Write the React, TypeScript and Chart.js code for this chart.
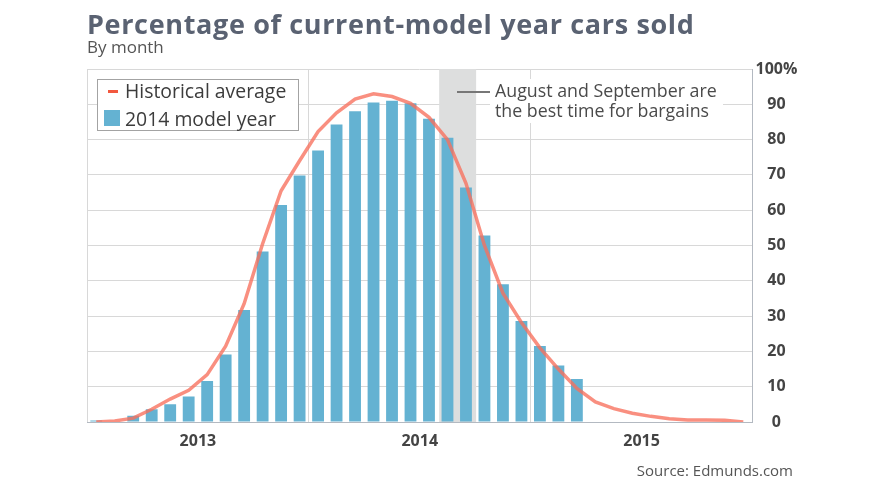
import React, { useEffect, useRef } from "react";
import { Chart, registerables } from "chart.js";

Chart.register(...registerables);

// ---- data ----
const monthLabels = [
  "Jan 2013", "Feb 2013", "Mar 2013", "Apr 2013", "May 2013", "Jun 2013",
  "Jul 2013", "Aug 2013", "Sep 2013", "Oct 2013", "Nov 2013", "Dec 2013",
  "Jan 2014", "Feb 2014", "Mar 2014", "Apr 2014", "May 2014", "Jun 2014",
  "Jul 2014", "Aug 2014", "Sep 2014", "Oct 2014", "Nov 2014", "Dec 2014",
  "Jan 2015", "Feb 2015", "Mar 2015", "Apr 2015", "May 2015", "Jun 2015",
  "Jul 2015", "Aug 2015", "Sep 2015", "Oct 2015", "Nov 2015", "Dec 2015",
];

const yearLabels = ["2013", "2014", "2015"];

const modelYear2014 = [
  0.4, 0, 1.8, 3.6, 5.0, 7.2, 11.6, 19.1, 31.7, 48.3, 61.5, 69.8, 76.9, 84.3,
  88.0, 90.5, 91.0, 90.3, 85.9, 80.5, 66.4, 52.8, 39.0, 28.6, 21.5, 16.0, 12.2,
];

const historicalAverage = [
  0, 0.3, 1.1, 3.6, 6.5, 9.0, 13.4, 21.5, 33.5, 50.5, 65.5, 74.0, 82.3, 87.6,
  91.5, 93.0, 92.2, 90.3, 86.3, 80.0, 67.6, 50.0, 36.5, 28.2, 21.0, 15.0, 9.5,
  5.7, 3.8, 2.5, 1.6, 0.9, 0.6, 0.6, 0.5, 0,
];

const yTickValues = [0, 10, 20, 30, 40, 50, 60, 70, 80, 90, 100];

const bargainMonths = ["Aug 2014", "Sep 2014"];

// ---- styles ----
const BAR_COLOR = "#64b2d2";
const LINE_COLOR = "rgba(247, 112, 92, 0.78)";
const GRID_COLOR = "#d8d8d8";
const AXIS_COLOR = "#b3b9c1";
const TEXT_DARK = "#444444";

const MONTHS_PER_YEAR = 12;

const shadePlugin = {
  id: "bargainShade",
  beforeDatasetsDraw(chart: any) {
    const { ctx, chartArea, scales } = chart;
    const x = scales.x;
    const i0 = monthLabels.indexOf(bargainMonths[0]);
    const i1 = monthLabels.indexOf(bargainMonths[1]);
    const x0 = x.getPixelForValue(i0 - 0.45);
    const x1 = x.getPixelForValue(i1 + 0.55);
    ctx.save();
    ctx.fillStyle = "#dddede";
    ctx.fillRect(x0, chartArea.top, x1 - x0, chartArea.bottom - chartArea.top);
    ctx.restore();
  },
};

function yearOfTick(v: number): string {
  const rel = v - (MONTHS_PER_YEAR / 2 - 0.5);
  if (Math.abs(rel % MONTHS_PER_YEAR) < 1e-6) {
    return yearLabels[Math.round(rel / MONTHS_PER_YEAR)] ?? "";
  }
  return "";
}

function isYearBoundary(v: number): boolean {
  const rel = v + 0.5;
  return Math.abs(rel % MONTHS_PER_YEAR) < 1e-6;
}

export default function App() {
  const canvasRef = useRef<HTMLCanvasElement | null>(null);

  useEffect(() => {
    if (!canvasRef.current) return;
    const n = monthLabels.length;
    const xTicks: number[] = [];
    for (let k = 0; k < yearLabels.length; k++) {
      xTicks.push(k * MONTHS_PER_YEAR - 0.5);
      xTicks.push(k * MONTHS_PER_YEAR + MONTHS_PER_YEAR / 2 - 0.5);
    }
    xTicks.push(n - 0.5);

    const chart = new Chart(canvasRef.current, {
      type: "bar",
      data: {
        datasets: [
          {
            type: "line",
            label: "Historical average",
            data: historicalAverage.map((v, i) => ({ x: i, y: v })),
            borderColor: LINE_COLOR,
            borderWidth: 3.5,
            pointRadius: 0,
            tension: 0,
            fill: false,
            order: 0,
          } as any,
          {
            type: "bar",
            label: "2014 model year",
            data: modelYear2014.map((v, i) => ({ x: i, y: v })),
            backgroundColor: BAR_COLOR,
            borderWidth: 0,
            barPercentage: 0.64,
            categoryPercentage: 1,
            order: 1,
          } as any,
        ],
      },
      options: {
        responsive: true,
        maintainAspectRatio: false,
        animation: false,
        layout: { padding: { left: 87, top: 69, right: 0, bottom: 0 } },
        plugins: {
          legend: { display: false },
          tooltip: { enabled: false },
          title: { display: false },
        },
        scales: {
          x: {
            type: "linear",
            offset: false,
            min: -0.5,
            max: n - 0.5,
            afterBuildTicks: (s: any) => {
              s.ticks = xTicks.map((v) => ({ value: v }));
            },
            afterFit: (s: any) => {
              s.height = 73;
            },
            grid: {
              offset: false,
              color: (c: any) =>
                c.tick && isYearBoundary(c.tick.value) ? GRID_COLOR : "rgba(0,0,0,0)",
              drawTicks: false,
              lineWidth: 1,
            },
            border: { color: AXIS_COLOR, width: 1 },
            ticks: {
              autoSkip: false,
              maxRotation: 0,
              padding: 10,
              color: TEXT_DARK,
              font: { family: "'Open Sans'", weight: "bold", size: 16 },
              callback: (v: any) => yearOfTick(Number(v)),
            },
          },
          y: {
            position: "right",
            min: 0,
            max: 100,
            afterBuildTicks: (s: any) => {
              s.ticks = yTickValues.map((v) => ({ value: v }));
            },
            afterFit: (s: any) => {
              s.width = 127.5;
            },
            grid: { color: GRID_COLOR, drawTicks: false, lineWidth: 1 },
            border: { color: AXIS_COLOR, width: 1 },
            ticks: {
              crossAlign: "center",
              padding: 3,
              color: TEXT_DARK,
              font: { family: "'Open Sans'", weight: "bold", size: 16 },
              callback: (v: any) => (Number(v) === 100 ? "100%" : String(v)),
            },
          },
        },
      } as any,
      plugins: [shadePlugin],
    });
    return () => chart.destroy();
  }, []);

  const abs = (s: React.CSSProperties): React.CSSProperties => ({
    position: "absolute",
    margin: 0,
    whiteSpace: "nowrap",
    ...s,
  });

  return (
    <div
      style={{
        position: "absolute",
        left: 0,
        top: 0,
        width: 880,
        height: 495,
        background: "#ffffff",
        fontFamily: "'Open Sans', sans-serif",
        overflow: "hidden",
      }}
    >
      <div style={{ position: "absolute", left: 0, top: 0, width: 880, height: 495 }}>
        <canvas ref={canvasRef} />
      </div>

      <div
        style={abs({
          left: 87,
          top: 9.6,
          fontFamily: "'Open Sans', sans-serif",
          fontWeight: 700,
          fontSize: 27,
          lineHeight: "27px",
          letterSpacing: "0.65px",
          color: "#5a6272",
        })}
      >
        Percentage of current-model year cars sold
      </div>
      <div
        style={abs({
          left: 87,
          top: 38,
          fontSize: 17,
          lineHeight: "17px",
          color: "#555555",
        })}
      >
        By month
      </div>

      {/* legend */}
      <div
        style={abs({
          left: 97,
          top: 79,
          width: 202,
          height: 52,
          boxSizing: "border-box",
          border: "1px solid #a3a3a3",
          background: "#ffffff",
        })}
      />
      <div style={abs({ left: 108, top: 90.2, width: 10, height: 3, background: "#f2583f" })} />
      <div style={abs({ left: 104, top: 110, width: 16, height: 16, background: BAR_COLOR })} />
      <div
        style={abs({ left: 125, top: 81.2, fontSize: 19.4, lineHeight: "19.4px", color: "#3c3c3c" })}
      >
        Historical average
      </div>
      <div
        style={abs({ left: 125, top: 108.6, fontSize: 19.4, lineHeight: "19.4px", color: "#3c3c3c" })}
      >
        2014 model year
      </div>

      {/* annotation */}
      <div style={abs({ left: 457, top: 90.7, width: 33, height: 2, background: "#777777" })} />
      <div
        style={abs({
          left: 490,
          top: 78.7,
          padding: "1px 6px 3px 5px",
          background: "#ffffff",
          fontSize: 17.8,
          lineHeight: "20px",
          color: "#4a4a4a",
        })}
      >
        August and September are
        <br />
        the best time for bargains
      </div>

      <div
        style={abs({
          right: 87,
          top: 463.3,
          fontSize: 15,
          lineHeight: "15px",
          color: "#555555",
        })}
      >
        Source: Edmunds.com
      </div>
    </div>
  );
}
